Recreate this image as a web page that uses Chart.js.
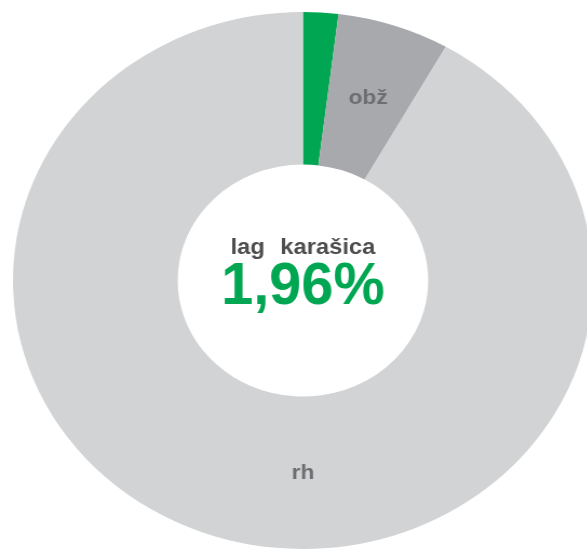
<!DOCTYPE html>
<html>
<head>
<meta charset="utf-8">
<script src="https://cdn.jsdelivr.net/npm/chart.js@4/dist/chart.umd.min.js"></script>
<style>
  html, body { margin: 0; padding: 0; background: #ffffff; overflow: hidden; width: 587px; height: 549px; }
  #wrap { position: absolute; left: 0; top: 0; width: 561px; height: 549px; transform: scaleX(1.08); transform-origin: 0 0; }
</style>
</head>
<body>
<div id="wrap"><canvas id="c"></canvas></div>
<script>
const categories = ["lag karašica", "obž", "rh"];
const shares = [1.96, 6.24, 91.8];
const sliceColors = ["#00a651", "#a7a9ac", "#d1d3d4"];
const centerTitle = "lag karašica";
const centerValue = "1,96%";

const labelsPlugin = {
  id: "labelsPlugin",
  afterDatasetsDraw(chart) {
    const ctx = chart.ctx;
    const meta = chart.getDatasetMeta(0);
    const cx = meta.data[0].x, cy = meta.data[0].y;
    ctx.save();
    // slice labels (obž, rh)
    ctx.font = "bold 21px 'Liberation Sans', Arial, sans-serif";
    ctx.fillStyle = "#6d6e71";
    ctx.textAlign = "center";
    ctx.textBaseline = "middle";
    meta.data.forEach((arc, i) => {
      if (i === 0) return;
      const p = arc.getProps(["startAngle", "endAngle", "innerRadius", "outerRadius", "x", "y"], true);
      const r = (p.innerRadius + p.outerRadius) / 2;
      let a = (p.startAngle + p.endAngle) / 2;
      if (i === meta.data.length - 1) a = Math.PI / 2;
      ctx.fillText(categories[i], p.x + Math.cos(a) * r, p.y + Math.sin(a) * r);
    });
    // center text
    ctx.textBaseline = "alphabetic";
    ctx.fillStyle = "#4d4d4f";
    ctx.font = "bold 22px 'Liberation Sans', Arial, sans-serif";
    try { ctx.wordSpacing = "8px"; } catch (e) {}
    ctx.fillText(centerTitle, cx, cy - 27);
    try { ctx.wordSpacing = "0px"; } catch (e) {}
    ctx.fillStyle = "#00a651";
    ctx.font = "bold 60px 'Liberation Sans', Arial, sans-serif";
    ctx.translate(cx, cy + 23);
    ctx.scale(0.89, 1);
    ctx.fillText(centerValue, 0, 0);
    ctx.restore();
  }
};

new Chart(document.getElementById("c"), {
  type: "doughnut",
  data: {
    labels: categories,
    datasets: [{
      data: shares,
      backgroundColor: sliceColors,
      borderWidth: 0,
      hoverOffset: 0
    }]
  },
  options: {
    responsive: true,
    maintainAspectRatio: false,
    animation: false,
    cutout: "43.2%",
    rotation: 0,
    layout: { padding: { top: 12, bottom: 0, left: 0, right: 0 } },
    plugins: {
      legend: { display: false },
      tooltip: { enabled: false }
    }
  },
  plugins: [labelsPlugin]
});
</script>
</body>
</html>
